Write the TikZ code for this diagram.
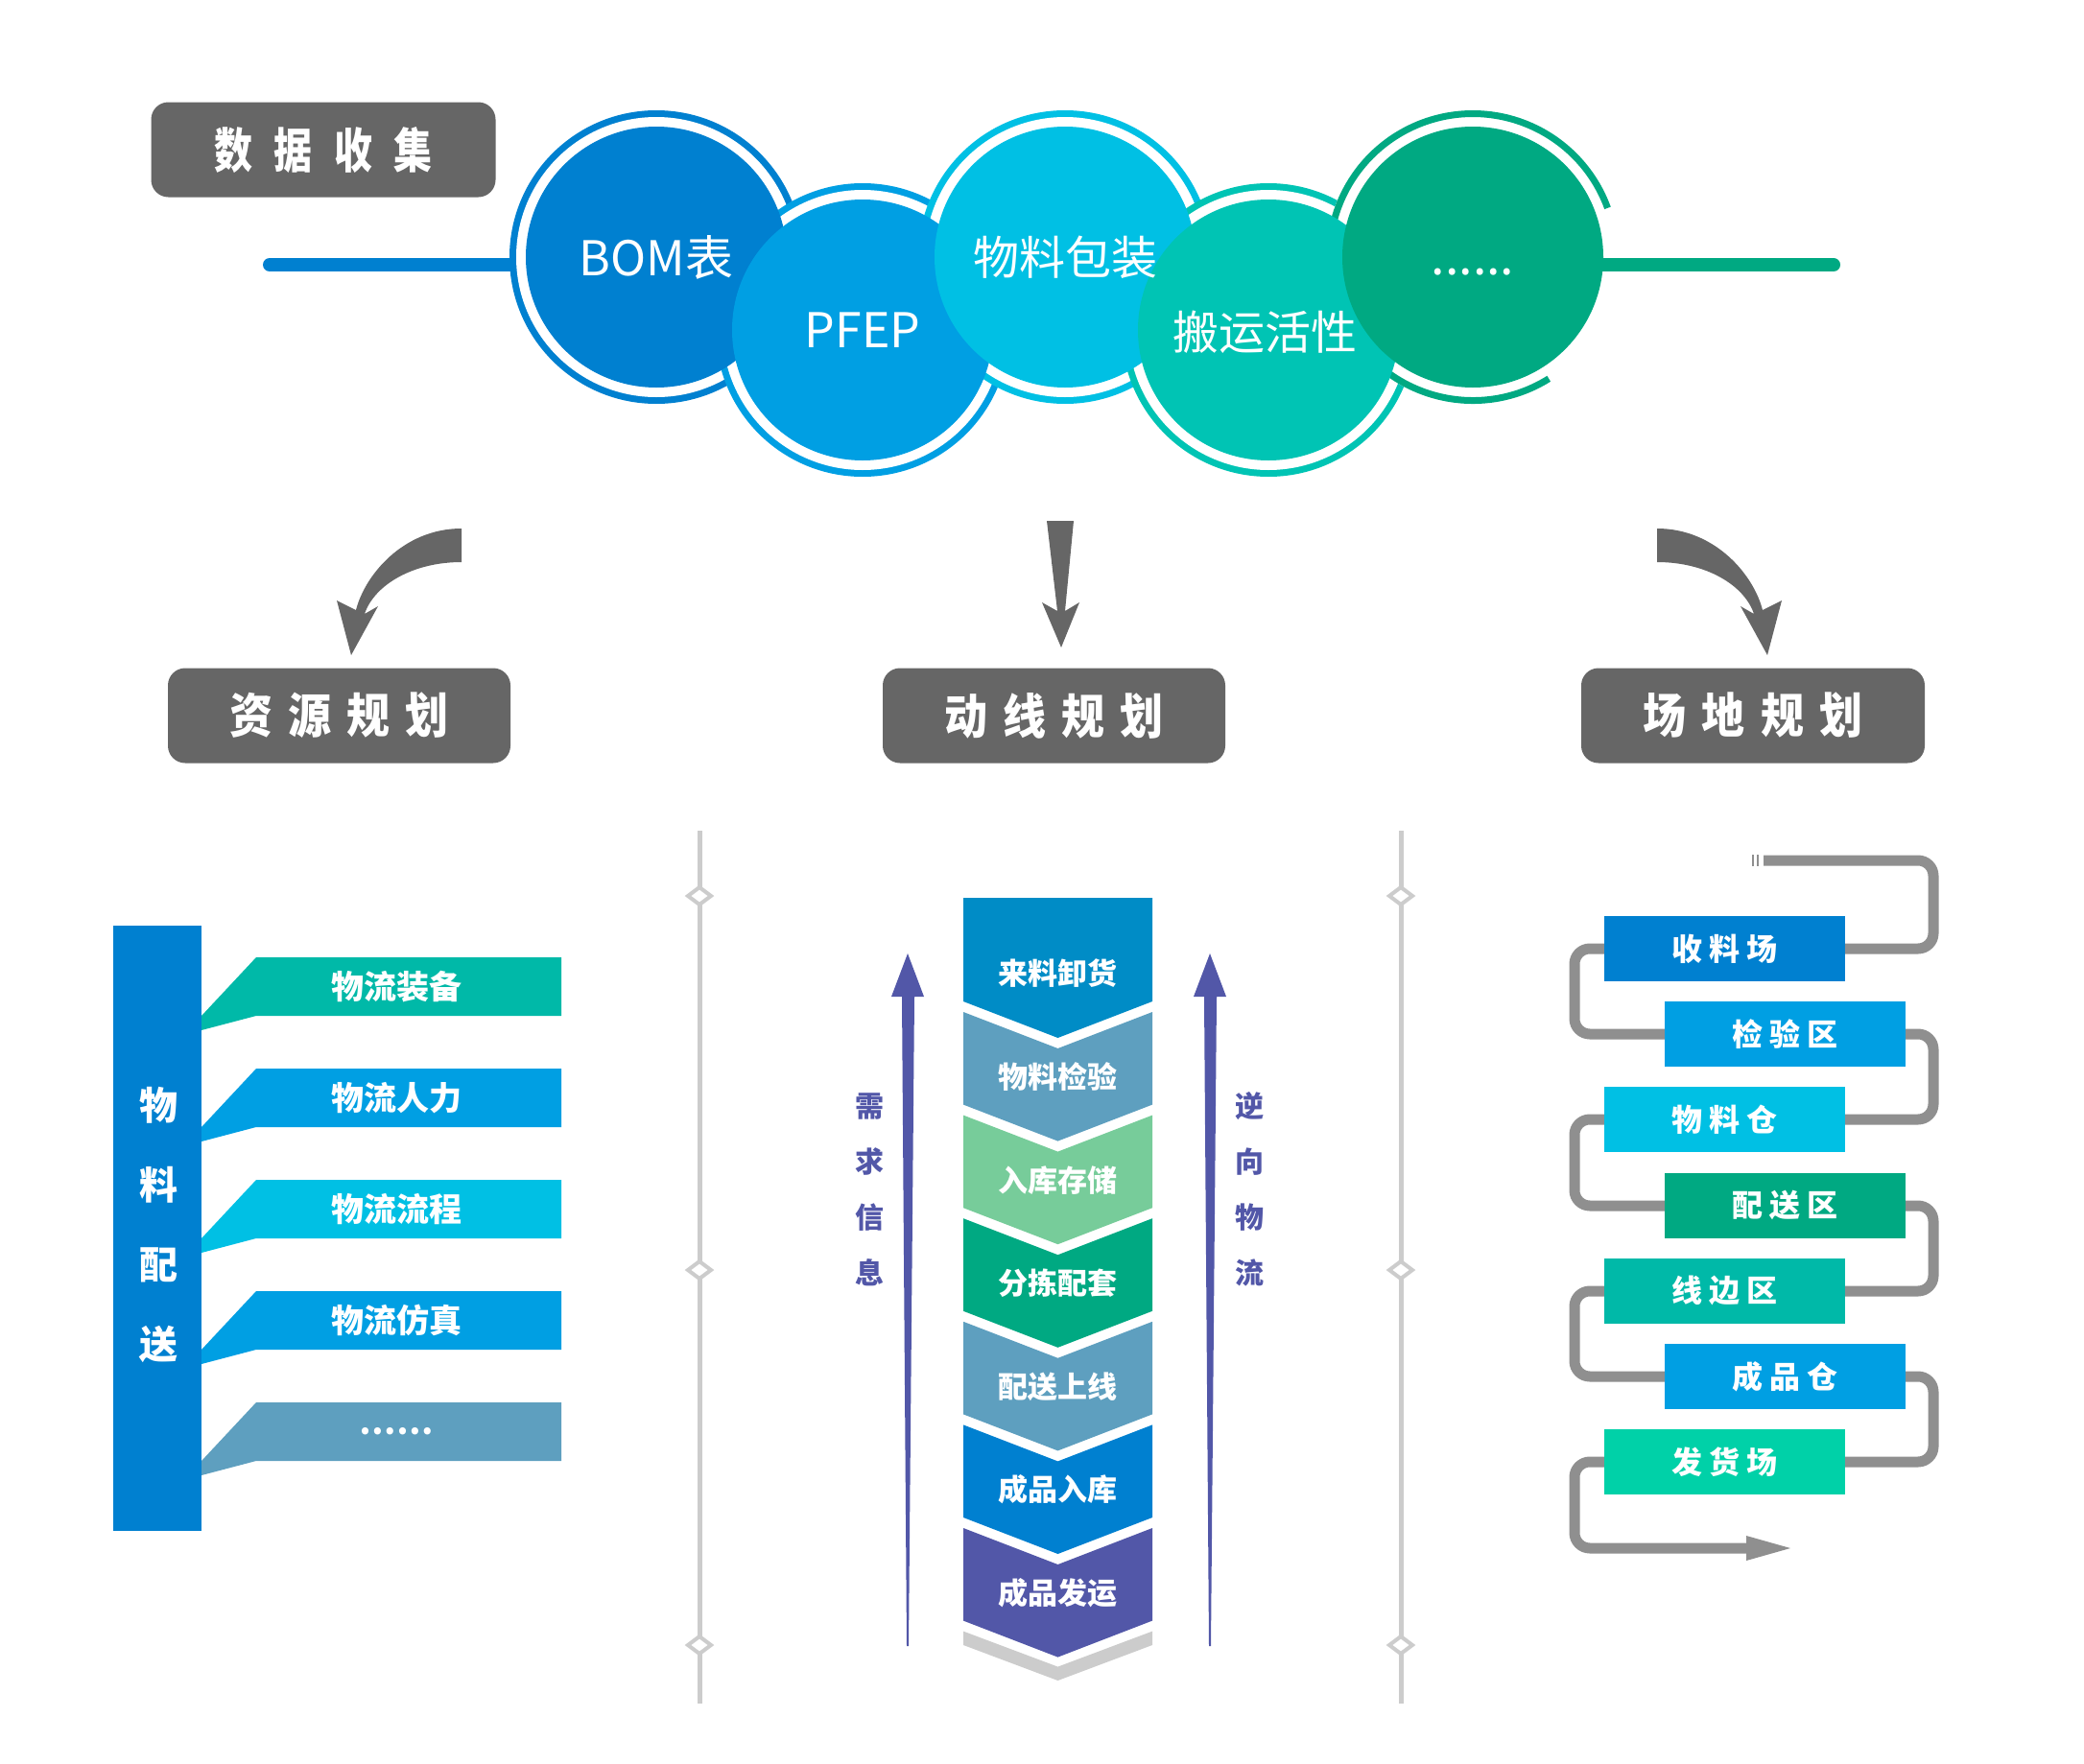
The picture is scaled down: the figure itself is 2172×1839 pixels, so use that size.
\documentclass[tikz,border=0pt]{standalone}
\usepackage{graphicx}
\usepackage{fontspec}
\setmainfont{Noto Sans CJK SC}
\definecolor{cBlue}{RGB}{0,128,208}
\definecolor{cMid}{RGB}{0,159,227}
\definecolor{cCyan}{RGB}{0,192,228}
\definecolor{cTealC}{RGB}{0,196,180}
\definecolor{cGreen}{RGB}{0,169,130}
\definecolor{cTeal}{RGB}{0,185,168}
\definecolor{cSteel}{RGB}{94,159,191}
\definecolor{cTop}{RGB}{0,140,198}
\definecolor{cLGreen}{RGB}{119,204,154}
\definecolor{cPurple}{RGB}{82,87,168}
\definecolor{cDark}{RGB}{102,102,102}
\definecolor{cPath}{RGB}{143,143,143}
\definecolor{cLine}{RGB}{204,204,204}
\definecolor{cMint}{RGB}{0,209,168}
\newcommand\myfs[1]{\fontsize{#1}{#1}\selectfont}
\newcommand\gp{\hspace{7pt}}
\newcommand\tg{\hspace{18pt}}
\begin{document}
\begin{tikzpicture}[x=1pt,y=-1pt,
  titlebox/.style={fill=cDark, rounded corners=18, text=white, inner sep=0, minimum height=99, font=\bfseries\myfs{50}},
  ctext/.style={text=white, font=\myfs{50}, inner sep=0},
  zone/.style={text=white, inner sep=0, minimum width=251, minimum height=68, font=\bfseries\myfs{32}},
  rib/.style={text=white, font=\bfseries\myfs{34}, inner sep=0},
  chev/.style={text=white, font=\bfseries\myfs{31}, inner sep=0},
  vtext/.style={text=cPurple, font=\bfseries\fontsize{30}{58}\selectfont, align=center, inner sep=0},
]
\useasboundingbox (0,0) rectangle (2172,1839);

% ---------- top: data collection ----------
\draw[cBlue, line width=14, line cap=round] (281,276) -- (560,276);
\coordinate (c1) at (684,268);
\coordinate (c2) at (899,344);
\coordinate (c3) at (1110,268);
\coordinate (c4) at (1322,344);
\coordinate (c5) at (1535,268);
\foreach \c/\col in {c1/cBlue,c2/cMid,c3/cCyan,c4/cTealC}{
  \fill[\col] (\c) circle[radius=153];
  \fill[white] (\c) circle[radius=146];
}
\fill[white] (c5) circle[radius=153];
\draw[cGreen, line width=7] (c5) ++(58:149.5) arc[start angle=58, end angle=340, radius=149.5];
\foreach \c/\col in {c1/cBlue,c2/cMid,c3/cCyan,c4/cTealC,c5/cGreen}{
  \fill[\col] (\c) circle[radius=136];
}
\draw[cGreen, line width=14, line cap=round] (1660,276) -- (1911,276);

\node[ctext] (t1) at (684,268) {BOM表};
\node[ctext] (t2) at (899,344) {PFEP};
\node[ctext, font=\myfs{48}] (t3) at (1110,268) {物料包装};
\node[ctext, font=\myfs{48}] (t4) at (1318,346) {搬运活性};
\node[ctext, font=\myfs{52}, anchor=base] (t5) at (1535,286) {......};

\node[titlebox, minimum width=359] (dc) at (337,156)
  {\scalebox{0.8}[1]{数\hspace{28pt}据\hspace{28pt}收\hspace{28pt}集}};

% ---------- arrows ----------
\fill[cDark] (481,551) .. controls (420,551) and (380,600) .. (371,636) -- (351,626) -- (366,683) -- (394,632) -- (380,640) .. controls (390,610) and (430,586) .. (481,586) -- cycle;
\fill[cDark] (1727,551) .. controls (1788,551) and (1828,600) .. (1837,636) -- (1857,626) -- (1842,683) -- (1814,632) -- (1828,640) .. controls (1818,610) and (1778,586) .. (1727,586) -- cycle;
\fill[cDark] (1091,543) -- (1102,637) -- (1086,628) -- (1106,675) -- (1125,628) -- (1110,637) -- (1119,543) -- cycle;

\node[titlebox, minimum width=357] (r1) at (353.5,746) {\scalebox{0.9}[1]{资\tg 源\tg 规\tg 划}};
\node[titlebox, minimum width=357] (r2) at (1098.5,746) {\scalebox{0.9}[1]{动\tg 线\tg 规\tg 划}};
\node[titlebox, minimum width=358] (r3) at (1827,746) {\scalebox{0.9}[1]{场\tg 地\tg 规\tg 划}};

% ---------- dividers ----------
\foreach \x in {729,1460}{
  \draw[cLine, line width=5] (\x,866) -- (\x,1776);
  \foreach \y in {934,1324,1715}
    \filldraw[draw=cLine, fill=white, line width=4] (\x-12,\y) -- (\x,\y-9) -- (\x+12,\y) -- (\x,\y+9) -- cycle;
}

% ---------- left: resources ----------
\node[fill=cBlue, minimum width=92, minimum height=631, inner sep=0] (bar) at (164,1280.5) {};
\node[text=white, font=\bfseries\fontsize{40}{83}\selectfont, align=center, inner sep=0] (barT) at (165,1277) {物\\料\\配\\送};
\foreach \i/\col/\txt in {0/cTeal/物流装备,1/cMid/物流人力,2/cCyan/物流流程,3/cMid/物流仿真,4/cSteel/……}{
  \pgfmathsetmacro\t{998+116*\i}
  \fill[\col] (210,\t+61) -- (267,\t) -- (585,\t) -- (585,\t+61) -- (267,\t+61) -- (210,\t+76) -- cycle;
  \node[rib] (rb\i) at (413,\t+30.5) {\txt};
}

% ---------- middle: flow ----------
\fill[cTop] (1004,936) -- (1201,936) -- (1201,1044) -- (1102.5,1082) -- (1004,1044) -- cycle;
\node[chev] (ch0) at (1102.5,1015) {来料卸货};
\foreach \k/\col/\txt in {1/cSteel/物料检验,2/cLGreen/入库存储,3/cGreen/分拣配套,4/cSteel/配送上线,5/cBlue/成品入库,6/cPurple/成品发运}{
  \pgfmathsetmacro\T{1044+107.6*(\k-1)+11}
  \pgfmathsetmacro\B{1044+107.6*\k}
  \fill[\col] (1004,\T) -- (1102.5,\T+38) -- (1201,\T) -- (1201,\B) -- (1102.5,\B+38) -- (1004,\B) -- cycle;
  \node[chev] (ch\k) at (1102.5,\B-29) {\txt};
}
\fill[cLine] (1004,1700.6) -- (1102.5,1737.6) -- (1201,1700.6) -- (1201,1715) -- (1102.5,1752) -- (1004,1715) -- cycle;

\fill[cPurple] (946,994) -- (963,1039) -- (953,1039) -- (947,1716) -- (945,1716) -- (940,1039) -- (929,1039) -- cycle;
\fill[cPurple] (1261,994) -- (1278,1039) -- (1268,1039) -- (1262,1716) -- (1260,1716) -- (1255,1039) -- (1244,1039) -- cycle;
\node[vtext] (dq) at (906,1240) {需\\求\\信\\息};
\node[vtext] (nx) at (1302,1240) {逆\\向\\物\\流};

% ---------- right: site ----------
\fill[cPath] (1826,891) rectangle (1828,903);
\fill[cPath] (1831,891) rectangle (1833,903);
\coordinate (s0) at (1838,897);
\coordinate (e0) at (1824,1614);
\draw[cPath, line width=11, rounded corners=16] (s0) -- (2015,897) -- (2015,989) -- (1641,989) -- (1641,1078) -- (2015,1078) -- (2015,1167) -- (1641,1167) -- (1641,1257) -- (2015,1257) -- (2015,1346) -- (1641,1346) -- (1641,1435) -- (2015,1435) -- (2015,1524) -- (1641,1524) -- (1641,1614) -- (e0);
\fill[cPath] (1820,1601) -- (1866,1614) -- (1820,1627) -- cycle;
\foreach \i/\x/\col/\txt in {1/1797.5/cBlue/收\gp 料\gp 场,2/1860.5/cMid/检\gp 验\gp 区,3/1797.5/cCyan/物\gp 料\gp 仓,4/1860.5/cGreen/配\gp 送\gp 区,5/1797.5/cTeal/线\gp 边\gp 区,6/1860.5/cMid/成\gp 品\gp 仓,7/1797.5/cMint/发\gp 货\gp 场}{
  \pgfmathsetmacro\y{989+89.2*(\i-1)}
  \node[zone, fill=\col] (z\i) at (\x,\y) {\txt};
}
\end{tikzpicture}
\end{document}
